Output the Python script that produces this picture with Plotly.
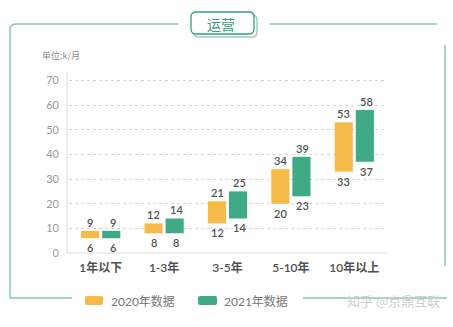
import plotly.graph_objects as go

categories = ["1年以下", "1-3年", "3-5年", "5-10年", "10年以上"]
low_2020 = [6, 8, 12, 20, 33]
high_2020 = [9, 12, 21, 34, 53]
low_2021 = [6, 8, 14, 23, 37]
high_2021 = [9, 14, 25, 39, 58]
series_names = ["2020年数据", "2021年数据"]
y_ticks = [0, 10, 20, 30, 40, 50, 60, 70]

ORANGE = "#F6BA4B"
GREEN = "#3EAA86"
FRAME = "#8CC6AF"
TXT = "#505050"
FONT = "Lato, Noto Sans CJK SC, sans-serif"

W, H = 453, 327
L, R, T, B = 69, 67, 78, 74
PW, PH = W - L - R, H - T - B


def px(x):
    return (x - L) / PW


def py(y):
    return (H - B - y) / PH


def path(points):
    s = ""
    for cmd, *pts in points:
        s += cmd + " " + " ".join(f"{px(a):.4f},{py(b):.4f}" for a, b in zip(pts[0::2], pts[1::2])) + " "
    return s.strip()


fig = go.Figure()
for name, lo, hi, col in [(series_names[0], low_2020, high_2020, ORANGE),
                          (series_names[1], low_2021, high_2021, GREEN)]:
    fig.add_trace(go.Bar(
        x=categories, y=[h - l for l, h in zip(lo, hi)], base=lo, name=name,
        marker=dict(color=col, line=dict(color=col, width=0)), showlegend=False,
        hoverinfo="skip"))

annotations = []
for lo, hi, shift in [(low_2020, high_2020, -10.5), (low_2021, high_2021, 12)]:
    for c, l, h in zip(categories, lo, hi):
        annotations.append(dict(x=c, y=h, text=str(h), showarrow=False, xshift=shift,
                                yanchor="bottom", yshift=0,
                                font=dict(size=11, color=TXT, family=FONT, weight=600)))
        annotations.append(dict(x=c, y=l, text=str(l), showarrow=False, xshift=shift,
                                yanchor="top", yshift=-1,
                                font=dict(size=11, color=TXT, family=FONT, weight=600)))


def label(x, y, text, size, color, family, xanchor="left"):
    annotations.append(dict(xref="paper", yref="paper", x=px(x), y=py(y), text=text,
                            xanchor=xanchor, yanchor="middle", showarrow=False,
                            font=dict(size=size, color=color, family=family)))


label(221, 23.5, "运营", 14, "#3A9E78", "Noto Sans CJK SC", "center")
label(40, 55, "单位:k/月", 9, "#8a8a8a", "Noto Sans CJK SC")
label(109, 301, series_names[0], 12, "#777777", FONT)
label(222, 301, series_names[1], 12, "#777777", FONT)
label(345, 300, "知乎 @京鼎互联", 13, "#cfcfcf", "Noto Sans CJK SC")

shapes = []
fl = dict(color=FRAME, width=1.5)
shapes.append(dict(type="path", xref="paper", yref="paper", line=fl,
                   path=path([("M", 178, 24), ("L", 16, 24), ("Q", 10, 24, 10, 30),
                              ("L", 10, 298), ("L", 72, 298)])))
shapes.append(dict(type="line", xref="paper", yref="paper", line=fl,
                   x0=px(270), y0=py(24), x1=px(437), y1=py(24)))
shapes.append(dict(type="line", xref="paper", yref="paper", line=fl,
                   x0=px(445), y0=py(45), x1=px(445), y1=py(266)))
shapes.append(dict(type="line", xref="paper", yref="paper", line=fl,
                   x0=px(303), y0=py(298), x1=px(447), y1=py(298)))


def rrect(x0, y0, x1, y1, r):
    return path([("M", x0 + r, y0), ("L", x1 - r, y0), ("Q", x1, y0, x1, y0 + r),
                 ("L", x1, y1 - r), ("Q", x1, y1, x1 - r, y1), ("L", x0 + r, y1),
                 ("Q", x0, y1, x0, y1 - r), ("L", x0, y0 + r), ("Q", x0, y0, x0 + r, y0)]) + " Z"


shapes.append(dict(type="path", xref="paper", yref="paper", layer="below",
                   line=dict(color="#9ccfba", width=1.5), fillcolor="white",
                   path=rrect(194, 15, 257, 37, 5)))
shapes.append(dict(type="path", xref="paper", yref="paper", layer="below",
                   line=dict(color="#3A9E78", width=1.3), fillcolor="white",
                   path=rrect(191, 12, 254, 34, 5)))
shapes.append(dict(type="path", xref="paper", yref="paper", line=dict(width=0),
                   fillcolor=ORANGE, path=rrect(85, 296, 103, 305, 2)))
shapes.append(dict(type="path", xref="paper", yref="paper", line=dict(width=0),
                   fillcolor=GREEN, path=rrect(198, 296, 217, 305, 2)))
shapes.append(dict(type="line", xref="paper", yref="paper", line=dict(color="#dddddd", width=1),
                   x0=px(67), y0=py(73), x1=px(67), y1=py(254)))
shapes.append(dict(type="line", xref="paper", yref="paper", line=dict(color="#dddddd", width=1),
                   x0=px(67), y0=py(253), x1=px(387), y1=py(253)))

fig.update_layout(
    width=W, height=H, margin=dict(l=L, r=R, t=T, b=B),
    paper_bgcolor="white", plot_bgcolor="white",
    barmode="group", bargap=0.335, bargroupgap=0.14,
    annotations=annotations, shapes=shapes,
    xaxis=dict(showgrid=False, showline=False, zeroline=False, ticks="",
               ticklabelstandoff=6,
               tickfont=dict(size=12, color=TXT, family=FONT, weight=600)),
    yaxis=dict(range=[0, 71], tickvals=y_ticks, showgrid=True, gridcolor="#d4d4d4",
               griddash="dot", gridwidth=1, zeroline=False, showline=False,
               ticks="", ticklabelstandoff=9,
               tickfont=dict(size=11, color="#9a9a9a", family=FONT)),
    font=dict(family=FONT),
)

fig.write_html("out.html")
